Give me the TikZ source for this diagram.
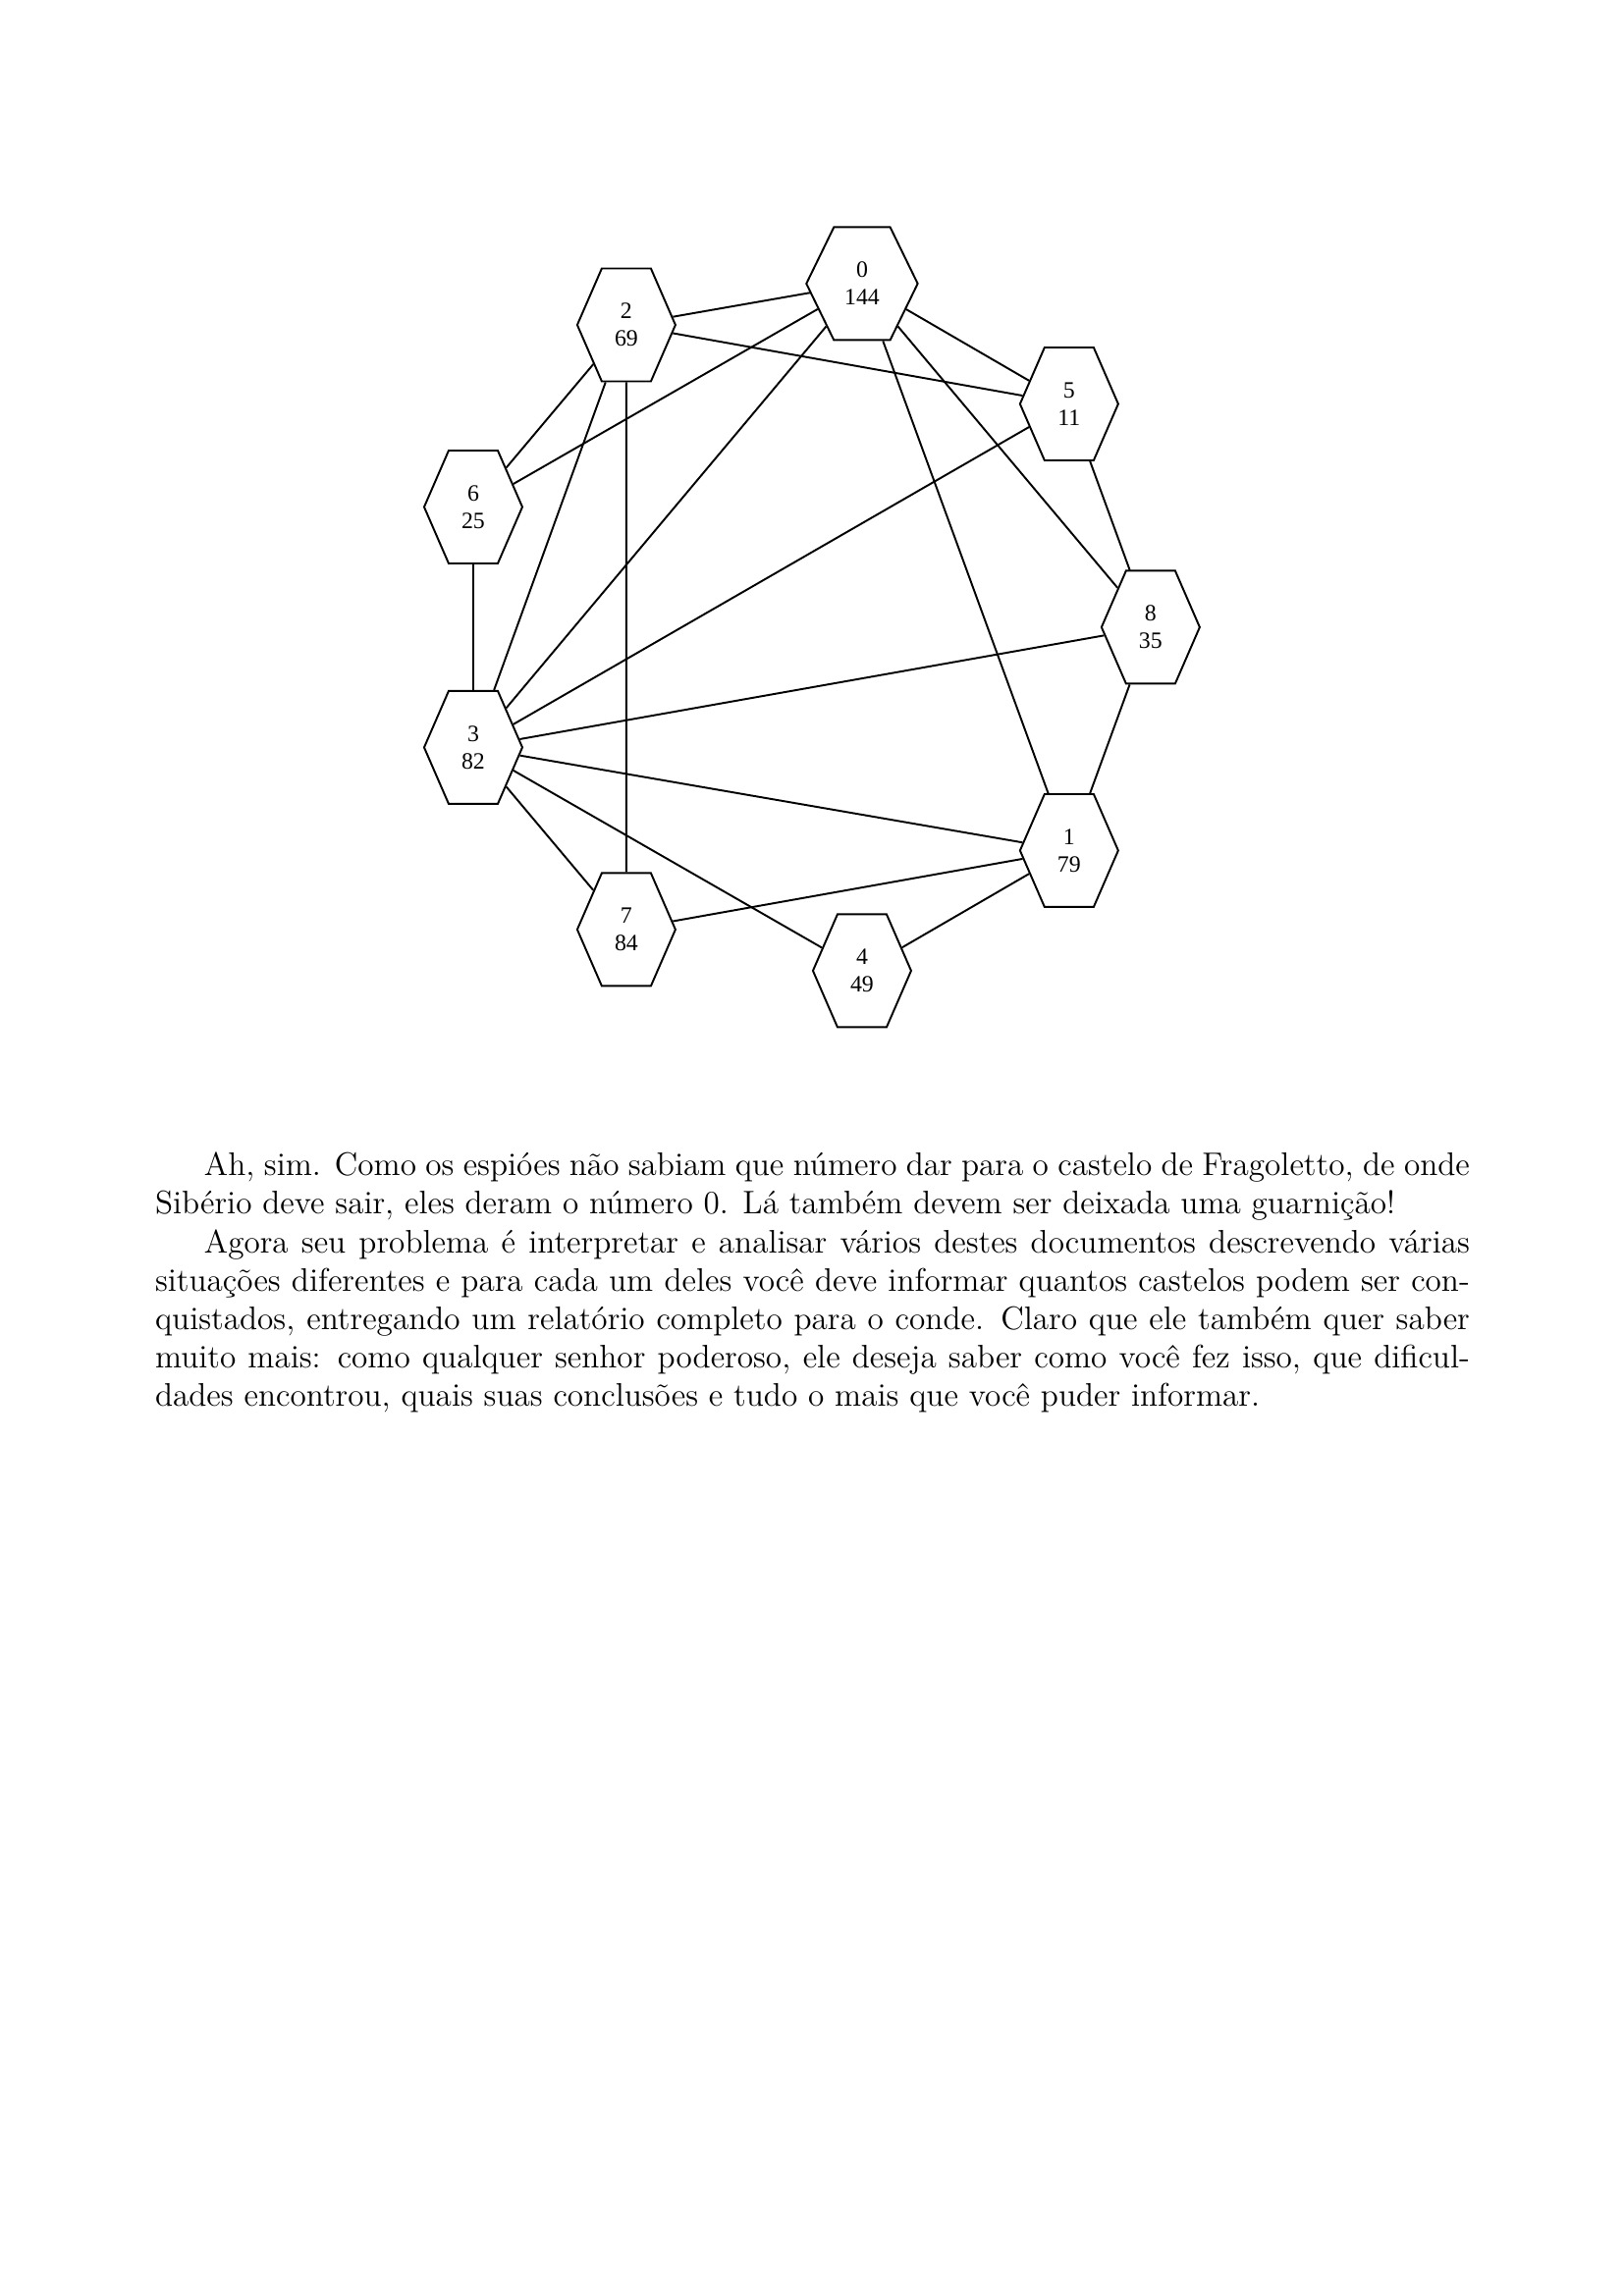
\documentclass[tikz,border=0pt]{standalone}
\usepackage{fontspec}
\newfontfamily\gvfont{Liberation Serif}
\usetikzlibrary{shapes.symbols}

\tikzset{
	castelo/.style={draw, line width=0.7pt, shape=signal, signal to=east and west,
		signal pointer angle=133, minimum width=1.27cm, minimum height=1.46cm,
		inner sep=0pt, align=center, font=\gvfont\fontsize{8.6}{10.1}\selectfont},
	castelo largo/.style={castelo, signal pointer angle=128, minimum width=1.44cm},
	estrada/.style={line width=0.7pt}
}

\begin{document}
\begin{tikzpicture}
	\useasboundingbox (0,0) rectangle (21,-29.7);

	% castelos
	\node[castelo largo] (c0) at (11.148,-3.669) {0\\144};
	\node[castelo] (c2) at (8.100,-4.203) {2\\69};
	\node[castelo] (c5) at (13.826,-5.225) {5\\11};
	\node[castelo] (c6) at (6.120,-6.558) {6\\25};
	\node[castelo] (c8) at (14.880,-8.113) {8\\35};
	\node[castelo] (c3) at (6.120,-9.668) {3\\82};
	\node[castelo] (c1) at (13.826,-11.002) {1\\79};
	\node[castelo] (c7) at (8.100,-12.024) {7\\84};
	\node[castelo] (c4) at (11.148,-12.557) {4\\49};

	% estradas
	\foreach \a/\b in {0/2, 0/6, 0/3, 0/5, 0/8, 0/1, 2/5, 2/6, 2/3, 2/7,
		5/3, 5/8, 6/3, 8/3, 8/1, 3/1, 3/7, 3/4, 1/7, 1/4}
		\draw[estrada] (c\a) -- (c\b);

	\node[anchor=north west, inner sep=0pt, text width=17cm, align=justify,
		font=\fontsize{12}{14.15}\selectfont] (relato) at (2,-14.9) {%
		\noindent\hspace*{18pt}Ah, sim. Como os espióes não sabiam que número dar para o castelo de Fragoletto, de onde\linebreak
		Sibério deve sair, eles deram o número 0. Lá também devem ser deixada uma guarnição!\par
		\noindent\hspace*{18pt}Agora seu problema é interpretar e analisar vários destes documentos descrevendo várias\linebreak
		situações diferentes e para cada um deles você deve informar quantos castelos podem ser con-\linebreak
		quistados, entregando um relatório completo para o conde. Claro que ele também quer saber\linebreak
		muito mais: como qualquer senhor poderoso, ele deseja saber como você fez isso, que dificul-\linebreak
		dades encontrou, quais suas conclusões e tudo o mais que você puder informar.};
\end{tikzpicture}
\end{document}
